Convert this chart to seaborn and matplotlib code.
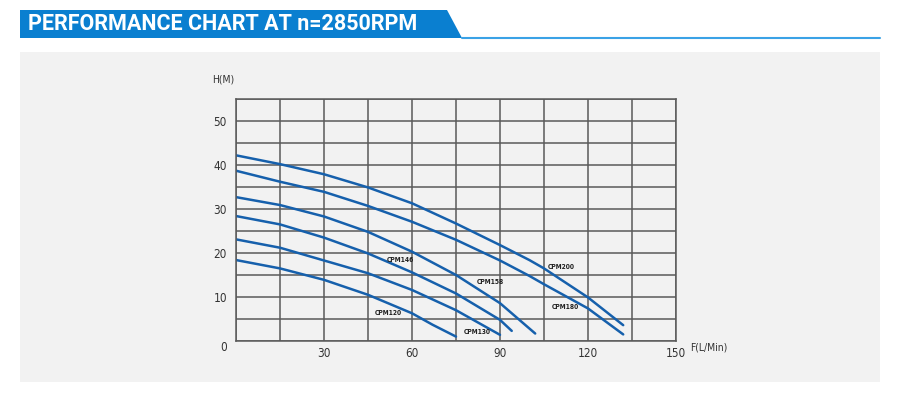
import numpy as np
import pandas as pd
import matplotlib
matplotlib.use("Agg")
import matplotlib.pyplot as plt
import seaborn as sns
from matplotlib.patches import Polygon, Rectangle
from matplotlib.ticker import MultipleLocator

# flow (L/min) and head (m)
CPM200_Q = [0, 15, 30, 45, 60, 75, 90, 100, 105, 120, 132]
CPM200_H = [42.2, 40.2, 37.9, 34.9, 31.3, 26.7, 21.8, 18.4, 16.5, 9.9, 3.6]
CPM180_Q = [0, 15, 30, 45, 60, 75, 90, 100, 105, 120, 132]
CPM180_H = [38.7, 36.2, 33.9, 30.7, 27.1, 23.0, 18.3, 14.8, 12.9, 7.4, 1.5]
CPM158_Q = [0, 15, 30, 45, 60, 75, 90, 102]
CPM158_H = [32.7, 30.9, 28.3, 24.8, 20.3, 15.0, 8.6, 1.7]
CPM146_Q = [0, 15, 30, 45, 60, 75, 90, 94]
CPM146_H = [28.4, 26.5, 23.5, 19.9, 15.6, 10.8, 4.8, 2.3]
CPM130_Q = [0, 15, 30, 45, 60, 75, 90]
CPM130_H = [23.1, 21.2, 18.3, 15.4, 11.6, 7.0, 1.4]
CPM120_Q = [0, 15, 30, 45, 60, 67, 75]
CPM120_H = [18.4, 16.5, 13.9, 10.5, 6.3, 3.7, 1.0]

MODELS = ["CPM200", "CPM180", "CPM158", "CPM146", "CPM130", "CPM120"]
CURVES = [(CPM200_Q, CPM200_H), (CPM180_Q, CPM180_H), (CPM158_Q, CPM158_H),
          (CPM146_Q, CPM146_H), (CPM130_Q, CPM130_H), (CPM120_Q, CPM120_H)]

# where each model name sits (flow, head)
LABEL_POS = {"CPM200": (106.4, 16.8), "CPM180": (107.7, 7.7), "CPM158": (82.2, 13.4),
             "CPM146": (51.5, 18.4), "CPM130": (77.7, 2.0), "CPM120": (47.4, 6.4)}

X_TICKS = [30, 60, 90, 120, 150]
Y_TICKS = [0, 10, 20, 30, 40, 50]

TITLE = "PERFORMANCE CHART AT n=2850RPM"
LINE_COLOR = "#1660ac"
GRID_COLOR = "#5a5a5a"

rows = []
for name, (q, h) in zip(MODELS, CURVES):
    for qi, hi in zip(q, h):
        rows.append({"model": name, "flow": qi, "head": hi})
df = pd.DataFrame(rows)

sns.set_theme(style="white")
plt.rcParams["font.family"] = ["DejaVu Sans"]

fig = plt.figure(figsize=(9, 3.94), dpi=100)
fig.patch.set_facecolor("white")

# grey panel behind the chart
fig.patches.append(Rectangle((20 / 900, 1 - 382 / 394), 860 / 900, 330 / 394,
                             transform=fig.transFigure, facecolor="#f2f2f2",
                             edgecolor="none", zorder=-5))
# header banner with slanted edge
fig.patches.append(Polygon([(20 / 900, 1 - 10 / 394), (447 / 900, 1 - 10 / 394),
                            (462 / 900, 1 - 38 / 394), (20 / 900, 1 - 38 / 394)],
                           closed=True, transform=fig.transFigure,
                           facecolor="#0a7fd0", edgecolor="none", zorder=-4))
fig.lines.append(plt.Line2D([462 / 900, 880 / 900], [1 - 37.5 / 394, 1 - 37.5 / 394],
                            transform=fig.transFigure, color="#3aa2e6", lw=1.5))
fig.text(28 / 900, 1 - 24 / 394, TITLE, color="white", fontsize=15.5,
         fontweight="bold", va="center", ha="left", family="Roboto")

ax = fig.add_axes([236 / 900, 1 - 341 / 394, 440 / 900, 242 / 394])
ax.set_zorder(2)
ax.set_facecolor("#f2f2f2")

sns.lineplot(data=df, x="flow", y="head", units="model", estimator=None,
             color=LINE_COLOR, linewidth=1.8, sort=False, ax=ax, legend=False)

ax.set_xlim(0, 150)
ax.set_ylim(0, 55)
ax.xaxis.set_minor_locator(MultipleLocator(15))
ax.yaxis.set_minor_locator(MultipleLocator(5))
ax.set_xticks(X_TICKS)
ax.set_yticks(Y_TICKS)
ax.grid(True, which="both", color=GRID_COLOR, linewidth=1.1)
ax.set_axisbelow(True)
ax.tick_params(which="both", length=0, labelsize=8.5, colors="#333333")
ax.tick_params(axis="x", pad=4)
ax.tick_params(axis="y", pad=6.5)
for lab in ax.get_xticklabels() + ax.get_yticklabels():
    lab.set_fontstretch("condensed")
ax.get_yticklabels()[0].set_va("top")
ax.set_xlabel("")
ax.set_ylabel("")
for s in ax.spines.values():
    s.set_color(GRID_COLOR)
    s.set_linewidth(1.1)

for name in MODELS:
    px, py = LABEL_POS[name]
    ax.text(px, py, name, fontsize=4.8, fontweight="bold", color="#222222",
            ha="left", va="center", fontstretch="condensed")

fig.text(212 / 900, 1 - 80 / 394, "H(M)", fontsize=7.5, color="#333333",
         ha="left", va="center", fontstretch="condensed")
fig.text(690 / 900, 1 - 347 / 394, "F(L/Min)", fontsize=7.5, color="#333333",
         ha="left", va="center", fontstretch="condensed")

fig.savefig("out.png", dpi=100)
